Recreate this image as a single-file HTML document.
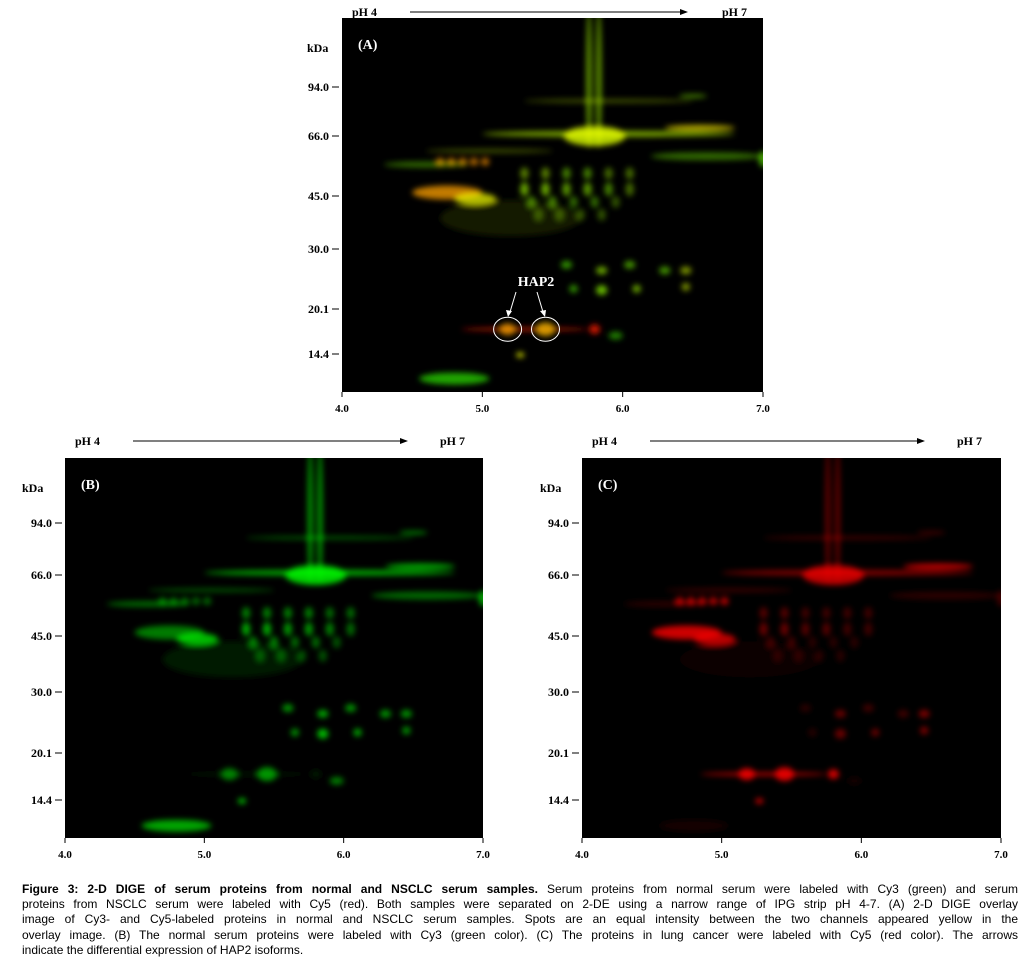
<!DOCTYPE html>
<html><head><meta charset="utf-8">
<style>
body{margin:0;background:#fff;width:1029px;height:970px;position:relative;overflow:hidden;font-family:"Liberation Serif",serif}
#cap{position:absolute;left:22px;top:882px;width:996px;font-family:"Liberation Sans",sans-serif;font-size:12px;line-height:15.2px;color:#000}
#cap div{text-align:justify;text-align-last:justify;white-space:nowrap}
#cap div.last{text-align-last:left}
svg{position:absolute;left:0;top:0}
</style></head><body>
<svg id="fig" width="1029" height="880"></svg>
<div id="cap">
<div><b>Figure 3: 2-D DIGE of serum proteins from normal and NSCLC serum samples.</b> Serum proteins from normal serum were labeled with Cy3 (green) and serum</div>
<div>proteins from NSCLC serum were labeled with Cy5 (red). Both samples were separated on 2-DE using a narrow range of IPG strip pH 4-7. (A) 2-D DIGE overlay</div>
<div>image of Cy3- and Cy5-labeled proteins in normal and NSCLC serum samples. Spots are an equal intensity between the two channels appeared yellow in the</div>
<div>overlay image. (B) The normal serum proteins were labeled with Cy3 (green color). (C) The proteins in lung cancer were labeled with Cy5 (red color). The arrows</div>
<div class="last">indicate the differential expression of HAP2 isoforms.</div>
</div>
<script>
// Data
const phTicks=[4.0,5.0,6.0,7.0];
const kdaTicks=[94.0,66.0,45.0,30.0,20.1,14.4];
const spotPH =[5.76,5.83,5.9,5.8,5.9,6.55,5.05,4.7,4.78,4.86,4.94,5.02,4.6,4.75,4.95,5.3,5.45,5.6,5.75,5.9,6.05,5.3,5.45,5.6,5.75,5.9,6.05,6.6,7.0,5.6,5.85,6.05,6.3,6.45,5.65,5.85,6.1,6.45,5.3,5.18,5.45,5.8,5.27,4.8,5.95,5.2,6.5,5.35,5.5,5.65,5.8,5.95,5.4,5.55,5.7,5.85];
const spotKDa=[100,100,85,66,67,70,60,56,56,56,56,56,55,46,44,52,52,52,52,52,52,47,47,47,47,47,47,58,57,27,26,27,26,26,23,22.8,23,23.3,17.3,17.3,17.3,17.3,14.3,12,16.5,38,88,43,43,43,43,43,39,39,39,39];
const spotW  =[0.02,0.02,0.6,0.22,0.9,0.25,0.45,0.03,0.03,0.03,0.03,0.03,0.3,0.25,0.15,0.03,0.03,0.03,0.03,0.03,0.03,0.03,0.03,0.03,0.03,0.03,0.03,0.4,0.03,0.04,0.04,0.04,0.04,0.04,0.03,0.04,0.03,0.03,0.45,0.06,0.07,0.04,0.03,0.25,0.05,0.5,0.1,0.03,0.03,0.03,0.03,0.03,0.03,0.03,0.03,0.03];
const spotH  =[70,70,2,10,3,3,2,4,4,4,4,4,3,7,6,6,6,6,6,6,6,7,7,7,7,7,7,4,8,4,4,4,4,4,4,5,4,4,2,6,7,5,3,6,4,18,2,6,6,6,6,6,6,6,6,6];
const spotG  =[0.7,0.7,0.4,1,0.8,0.8,0.4,0.5,0.5,0.5,0.5,0.5,0.5,0.6,0.9,0.6,0.6,0.6,0.6,0.5,0.5,0.8,0.8,0.7,0.7,0.6,0.5,0.5,0.8,0.7,0.8,0.7,0.7,0.7,0.7,0.9,0.8,0.7,0.1,0.6,0.7,0.1,0.9,0.8,0.6,0.12,0.6,0.6,0.6,0.5,0.5,0.4,0.4,0.4,0.4,0.4];
const spotR  =[0.45,0.45,0.3,0.9,0.6,0.9,0.3,0.9,0.9,0.9,0.9,0.9,0.2,1,0.9,0.4,0.4,0.3,0.3,0.3,0.3,0.5,0.5,0.4,0.4,0.3,0.3,0.2,0.3,0.2,0.5,0.3,0.3,0.6,0.2,0.5,0.5,0.6,0.8,1,1,1,0.9,0.1,0.1,0.06,0.3,0.3,0.3,0.2,0.2,0.2,0.2,0.2,0.2,0.2];
const NS="http://www.w3.org/2000/svg";
const svg=document.getElementById('fig');
function el(t,a,p){const e=document.createElementNS(NS,t);for(const k in a)e.setAttribute(k,a[k]);(p||svg).appendChild(e);return e;}
const defs=el('defs',{});
const f=el('filter',{id:'blur',x:'-100%',y:'-100%',width:'300%',height:'300%'},defs);
el('feGaussianBlur',{stdDeviation:'2.8'},f);
const panels=[
 {id:'A',x0:342,x1:763,y0:18,y1:392,tk:[87,136,196,249,309,354],mode:'o',lx:307,ph4:[352,12],ar:[410,688],ph7:[722,12]},
 {id:'B',x0:65,x1:483,y0:458,y1:838,tk:[523,575,636,692,753,800],mode:'g',lx:22,ph4:[75,441],ar:[133,408],ph7:[440,441]},
 {id:'C',x0:582,x1:1001,y0:458,y1:838,tk:[523,575,636,692,753,800],mode:'r',lx:540,ph4:[592,441],ar:[650,925],ph7:[957,441]}
];
function txt(s,x,y,anchor,size,color,name){
 const t=el('text',{x:x,y:y,'text-anchor':anchor||'start','font-family':'Liberation Serif, serif','font-weight':'bold','font-size':size||12,fill:color||'#000'});
 t.textContent=s;
 
 
 return t;}
panels.forEach(P=>{
 const xs=ph=>P.x0+(ph-4)*(P.x1-P.x0)/3;
 const ys=k=>{const L=Math.log(k),T=kdaTicks.map(Math.log);let i=0;
   if(L>T[0])i=0;else if(L<T[T.length-1])i=T.length-2;else{while(i<T.length-2&&L<T[i+1])i++;}
   return P.tk[i]+(L-T[i])*(P.tk[i+1]-P.tk[i])/(T[i+1]-T[i]);};
 const g=el('g',{});
 
 
 const cp=el('clipPath',{id:'cp'+P.id},defs);
 el('rect',{x:P.x0,y:P.y0,width:P.x1-P.x0,height:P.y1-P.y0},cp);
 el('rect',{x:P.x0,y:P.y0,width:P.x1-P.x0,height:P.y1-P.y0,fill:'#000'},g);
 const sg=el('g',{'clip-path':'url(#cp'+P.id+')',filter:'url(#blur)'},g);
 spotPH.forEach((ph,i)=>{
  let r=spotR[i],gg=spotG[i];
  const col=P.mode==='o'?`rgb(${Math.round(255*Math.min(1,r*0.9+0.05))},${Math.round(255*gg)},0)`:
    P.mode==='g'?`rgb(0,${Math.round(255*gg)},0)`:`rgb(${Math.round(255*r)},0,0)`;
  const e=el('ellipse',{cx:xs(ph),cy:ys(spotKDa[i]),rx:Math.max(2,spotW[i]*(P.x1-P.x0)/3),ry:spotH[i],fill:col,'fill-opacity':0.8,style:'mix-blend-mode:screen'},sg);
  
  
 });
 txt('('+P.id+')',P.x0+16,P.y0+31,'start',14,'#fff','panel-label-'+P.id.toLowerCase());
 txt('kDa',P.lx,P.y0+34,'start',12,'#000','kda-label');
 kdaTicks.forEach((k,i)=>{
  txt(k.toFixed(1),P.x0-13,P.tk[i]+4,'end',12,'#000','y-tick-label');
  el('line',{x1:P.x0-10,x2:P.x0-3,y1:P.tk[i],y2:P.tk[i],stroke:'#000','stroke-width':1});
 });
 phTicks.forEach(p=>{
  txt(p.toFixed(1),xs(p),P.y1+20,'middle',11,'#000','x-tick-label');
  el('line',{x1:xs(p),x2:xs(p),y1:P.y1,y2:P.y1+5,stroke:'#000','stroke-width':1});
 });
 txt('pH 4',P.ph4[0],P.ph4[1]+4,'start',12,'#000','ph4-label');
 txt('pH 7',P.ph7[0],P.ph7[1]+4,'start',12,'#000','ph7-label');
 el('line',{x1:P.ar[0],x2:P.ar[1]-6,y1:P.ph4[1],y2:P.ph4[1],stroke:'#000','stroke-width':1});
 el('polygon',{points:`${P.ar[1]},${P.ph4[1]} ${P.ar[1]-8},${P.ph4[1]-3} ${P.ar[1]-8},${P.ph4[1]+3}`,fill:'#000'});
 if(P.id==='A'){
  [[5.18],[5.45]].forEach(([p])=>el('ellipse',{cx:xs(p),cy:ys(17.3),rx:14,ry:12,fill:'none',stroke:'#fff','stroke-width':1}));
  txt('HAP2',P.x0+194,P.y0+268,'middle',14,'#fff','hap2-label');
  el('line',{x1:516,x2:510,y1:292,y2:312,stroke:'#fff'});
  el('polygon',{points:'508,317 506,310 512,311',fill:'#fff'});
  el('line',{x1:537,x2:543,y1:292,y2:312,stroke:'#fff'});
  el('polygon',{points:'545,317 540,311 546,310',fill:'#fff'});
 }
});
</script>
</body></html>
